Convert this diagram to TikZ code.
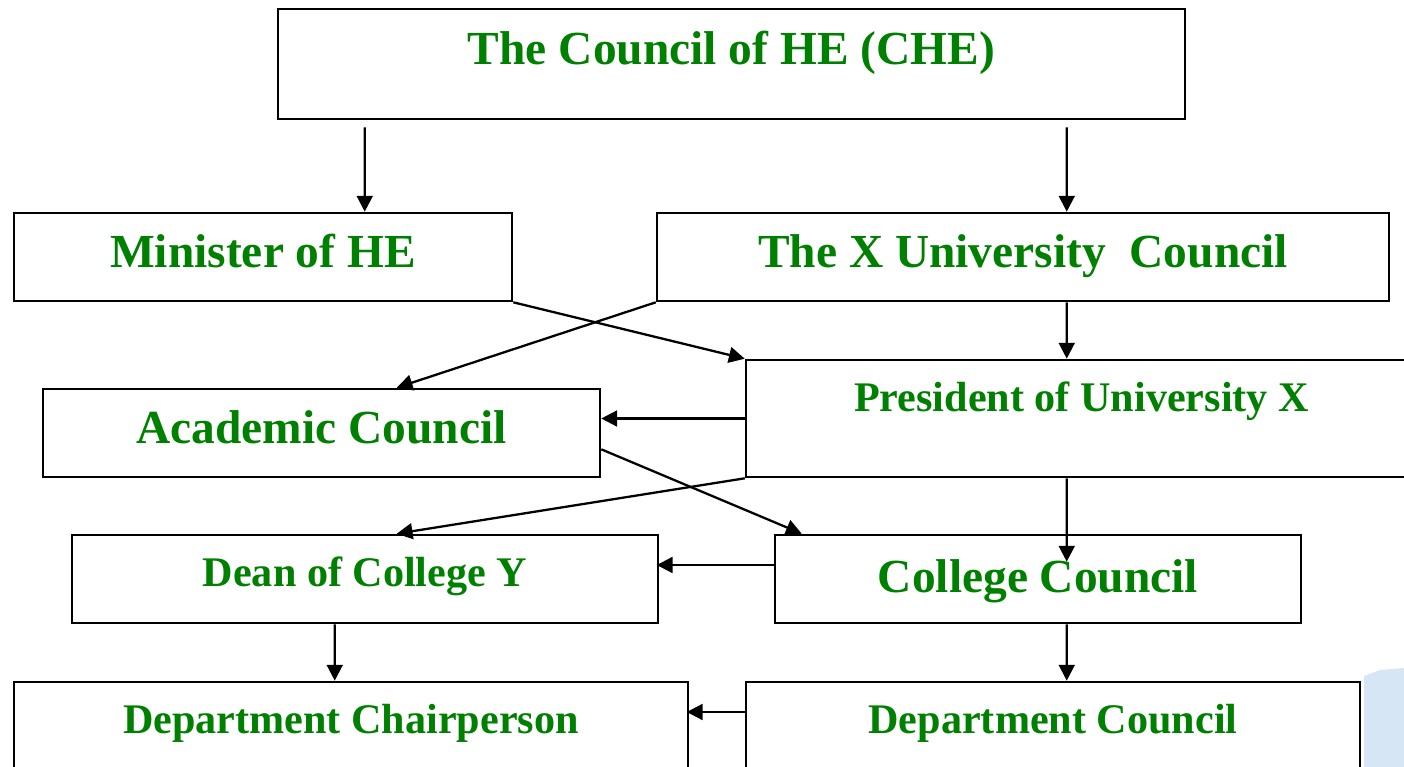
\documentclass[tikz,border=0pt]{standalone}
\usepackage{fontspec}
\setmainfont{Liberation Serif}
\usetikzlibrary{calc,arrows.meta}

\definecolor{chegreen}{RGB}{0,128,0}
\definecolor{paleblue}{RGB}{214,230,245}
\newcommand{\bigtext}{\fontsize{27}{30}\selectfont\bfseries}
\newcommand{\smalltext}{\fontsize{24}{27}\selectfont\bfseries}

\begin{document}
\begin{tikzpicture}[x=0.02cm,y=-0.02cm,>={Triangle[length=9pt,width=9pt]},
	box/.style={draw, line width=1.5pt, inner sep=0pt, text=chegreen, font=\bigtext},
	arr/.style={->, line width=1.3pt}]
		\useasboundingbox (0,0) rectangle (1404,767);
		\clip (0,0) rectangle (1404,767);
		\fill[paleblue] (1364,676) -- (1380,670) -- (1404,668) -- (1404,767) -- (1364,767) -- cycle;
		
		\node [box, minimum width=181.4mm, minimum height=22mm, text height=0.4mm, text depth=0mm] (che) at (731.5,64) {The Council of HE (CHE)};
		\node [box, minimum width=99.6mm, minimum height=17.6mm, text height=4.4mm, text depth=0mm] (min) at (263,257) {Minister of HE};
		\node [box, minimum width=146.4mm, minimum height=17.6mm, text height=4.4mm, text depth=0mm] (xuc) at (1023,257) {The X University\ \ Council};
		\node [box, font=\smalltext, minimum width=134.2mm, minimum height=23.4mm, text height=0mm, text depth=3mm] (pres) at (1081.5,418.5) {President of University X};
		\node [box, minimum width=111.4mm, minimum height=17.6mm, text height=4mm, text depth=0mm] (acad) at (321.5,433) {Academic Council};
		\node [box, font=\smalltext, minimum width=117.2mm, minimum height=17.6mm, text height=2.8mm, text depth=0mm] (dean) at (365,579) {Dean of College Y};
		\node [box, minimum width=105.2mm, minimum height=17.6mm, text height=5.6mm, text depth=0mm] (coll) at (1038,579) {College Council};
		\node [box, font=\smalltext, minimum width=134.8mm, minimum height=23.6mm, text height=0mm, text depth=3.2mm] (chair) at (351,741) {Department Chairperson};
		\node [box, font=\smalltext, minimum width=122.8mm, minimum height=23.6mm, text height=0mm, text depth=3.2mm] (dcou) at (1053,741) {Department Council};
		
		\path[arr] ($(che.south west)+(88,7)$) edge ($(min.north west)+(352,0)$);
		\path[arr] ($(che.south west)+(790,7)$) edge ($(xuc.north west)+(411,0)$);
		\path[arr] ($(xuc.south west)+(411,0)$) edge ($(pres.north west)+(322,0)$);
		\path[arr] (min.south east) edge (pres.north west);
		\path[arr] (xuc.south west) edge ($(acad.north west)+(355,0)$);
		\path[arr] (pres.west) edge (pres.west -| acad.east);
		\path[arr] (pres.south west) edge ($(dean.north west)+(326,0)$);
		\path[arr] ($(acad.south east)+(0,-29)$) edge ($(coll.north west)+(28,0)$);
		\path[arr] ($(pres.south west)+(322,0)$) edge ($(coll.north west)+(293,28)$);
		\path[arr] ($(coll.west)+(0,-14)$) edge ($(coll.west)+(-117,-14)$);
		\path[arr] ($(dean.south west)+(264,0)$) edge ($(chair.north west)+(322,0)$);
		\path[arr] ($(coll.south west)+(293,0)$) edge ($(dcou.north west)+(322,0)$);
		\path[arr] ($(dcou.west)+(0,-29)$) edge ($(dcou.west)+(-58,-29)$);
\end{tikzpicture}
\end{document}
